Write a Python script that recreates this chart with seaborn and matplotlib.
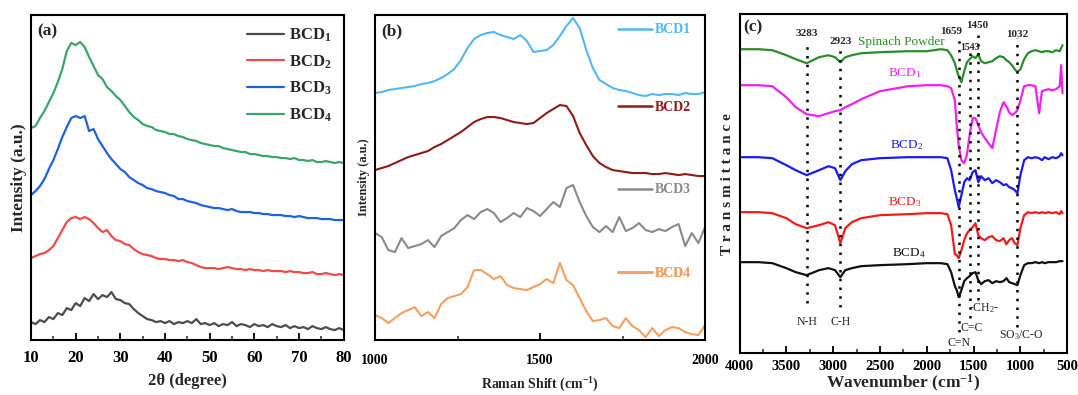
import numpy as np
import pandas as pd
import matplotlib
matplotlib.use("Agg")
import matplotlib.pyplot as plt
import seaborn as sns
from matplotlib.ticker import MultipleLocator
from matplotlib.lines import Line2D

# ---------------- data ----------------
# (a) XRD
two_theta = list(range(10, 81))
xrd_bcd1 = [18, 16, 20, 18, 23, 21, 27, 25, 32, 30, 37, 34, 42, 39, 46, 41, 45, 43, 48, 41,
            40, 37, 36, 31, 27, 24, 21, 20, 18, 19, 17, 19, 16, 18, 17, 19, 17, 21, 16, 17,
            15, 17, 14, 16, 15, 18, 14, 16, 15, 13, 16, 14, 15, 13, 16, 14, 13, 15, 12, 14,
            12, 13, 11, 14, 12, 11, 13, 11, 10, 12, 10]
xrd_bcd2 = [82, 84, 86, 87, 90, 94, 102, 110, 118, 122, 123, 121, 123, 121, 117, 112, 108, 110, 104, 100,
            99, 96, 95, 91, 88, 86, 85, 84, 82, 81, 81, 80, 80, 79, 80, 78, 77, 75, 73, 72,
            72, 72, 71, 72, 73, 72, 71, 71, 70, 71, 70, 70, 69, 70, 69, 69, 69, 68, 69, 68,
            68, 67, 67, 68, 66, 66, 67, 66, 65, 66, 65]
xrd_bcd3 = [145, 149, 154, 161, 171, 180, 191, 203, 213, 222, 224, 222, 224, 209, 211, 201, 194, 187, 181, 176,
            171, 168, 163, 160, 157, 155, 152, 151, 149, 148, 147, 145, 144, 141, 141, 139, 138, 137, 135, 134,
            133, 132, 132, 131, 130, 131, 129, 128, 128, 128, 127, 127, 126, 126, 125, 125, 125, 124, 124, 123,
            124, 123, 122, 122, 122, 121, 121, 121, 120, 120, 120]
xrd_bcd4 = [212, 214, 222, 229, 238, 247, 258, 271, 289, 297, 295, 298, 293, 283, 274, 265, 261, 253, 249, 244,
            240, 234, 228, 223, 220, 216, 214, 213, 210, 209, 208, 206, 206, 204, 203, 201, 200, 199, 197, 196,
            195, 194, 194, 192, 191, 190, 189, 188, 188, 186, 186, 185, 184, 184, 183, 183, 182, 182, 181, 182,
            180, 180, 179, 180, 178, 178, 179, 178, 177, 178, 177]
xrd_labels = ["BCD$_1$", "BCD$_2$", "BCD$_3$", "BCD$_4$"]
xrd_colors = ["#4d4d4d", "#f04a4a", "#1f62dc", "#3aa56c"]

# (b) Raman
raman_shift = list(range(1000, 2001, 20))
raman_bcd1 = [247, 248, 250, 251, 252, 253, 254, 256, 257, 259, 262, 266, 271, 280, 292, 301, 305, 307, 308, 305,
              303, 301, 305, 299, 288, 289, 290, 295, 304, 314, 322, 312, 290, 272, 260, 256, 252, 250, 249, 247,
              245, 244, 246, 245, 246, 246, 245, 247, 246, 246, 248]
raman_bcd2 = [170, 172, 174, 177, 180, 183, 185, 187, 189, 193, 196, 200, 204, 208, 213, 218, 221, 223, 223, 222,
              220, 218, 217, 216, 217, 222, 227, 231, 235, 234, 224, 207, 195, 184, 177, 173, 170, 169, 168, 167,
              167, 167, 166, 166, 167, 166, 165, 166, 165, 164, 164]
raman_bcd3 = [107, 103, 90, 88, 102, 92, 94, 96, 100, 93, 104, 108, 112, 120, 125, 121, 128, 131, 127, 118,
              122, 127, 123, 132, 129, 124, 131, 138, 133, 152, 155, 138, 124, 113, 108, 114, 108, 123, 109, 112,
              117, 110, 108, 111, 109, 113, 116, 94, 107, 97, 113]
raman_bcd4 = [25, 22, 17, 22, 27, 30, 33, 24, 28, 22, 36, 42, 44, 46, 53, 70, 70, 66, 61, 64,
              55, 52, 51, 50, 53, 56, 61, 57, 77, 60, 55, 42, 29, 19, 20, 22, 14, 12, 22, 14,
              10, 3, 12, 4, 10, 13, 12, 8, 6, 5, 15]
raman_labels = ["BCD1", "BCD2", "BCD3", "BCD4"]
raman_colors = ["#52b8f5", "#8e1a1a", "#8a8a8a", "#f5a060"]

# (c) FTIR
wavenumber = [4000, 3800, 3650, 3500, 3400, 3283, 3150, 3050, 2980, 2923, 2870, 2800, 2700, 2500, 2200,
              2000, 1850, 1780, 1740, 1700, 1680, 1659, 1630, 1600, 1570, 1543, 1510, 1480, 1450, 1420,
              1380, 1340, 1300, 1260, 1220, 1180, 1150, 1120, 1090, 1060, 1032, 1000, 960, 920, 880,
              840, 800, 770, 740, 700, 660, 620, 580, 565, 550]
ftir_spinach = [304, 304, 303, 298, 294, 290, 296, 298, 296, 291, 296, 298, 300, 301, 302,
                302, 304, 303, 298, 290, 283, 277, 271, 282, 291, 294, 297, 295, 299, 292,
                290, 291, 292, 295, 297, 296, 293, 291, 288, 284, 281, 284, 294, 300, 302,
                303, 302, 301, 302, 302, 301, 303, 302, 305, 308]
ftir_bcd1 = [268, 268, 267, 256, 246, 239, 237, 240, 242, 243, 246, 249, 254, 262, 267,
             268, 268, 267, 265, 253, 228, 208, 193, 190, 199, 218, 235, 235, 228, 221,
             215, 210, 205, 223, 241, 251, 247, 241, 238, 240, 243, 253, 267, 268, 268,
             267, 240, 262, 263, 264, 263, 264, 267, 288, 260]
ftir_bcd2 = [196, 196, 195, 188, 183, 178, 183, 187, 185, 173, 182, 189, 193, 195, 196,
             196, 196, 195, 183, 163, 155, 146, 158, 171, 175, 173, 181, 183, 171, 177,
             173, 175, 170, 173, 171, 168, 169, 166, 165, 163, 160, 178, 193, 196, 195,
             196, 195, 193, 196, 194, 196, 195, 197, 200, 198]
ftir_bcd3 = [141, 141, 140, 135, 129, 125, 128, 131, 128, 110, 125, 131, 135, 138, 139,
             140, 140, 139, 128, 99, 98, 95, 103, 113, 120, 123, 126, 130, 118, 115,
             113, 116, 117, 113, 112, 115, 109, 113, 115, 110, 108, 125, 138, 141, 140,
             141, 140, 141, 140, 141, 140, 141, 139, 142, 140]
ftir_bcd4 = [91, 91, 90, 85, 81, 78, 83, 85, 83, 76, 83, 85, 87, 88, 89,
             90, 90, 89, 81, 67, 63, 56, 63, 72, 75, 77, 80, 81, 73, 69,
             72, 73, 70, 72, 71, 72, 75, 71, 70, 69, 68, 78, 88, 90, 90,
             91, 90, 91, 90, 91, 91, 91, 92, 92, 92]
ftir_labels = ["Spinach Powder", "BCD$_1$", "BCD$_2$", "BCD$_3$", "BCD$_4$"]
ftir_colors = ["#2a8c2a", "#f020f0", "#1a1af5", "#f51a1a", "#111111"]
ftir_peaks = [3283, 2923, 1659, 1543, 1450, 1032]
peak_line_top = [310, 303, 313, 301, 320, 315]
peak_line_bottom = [50, 46, 21, 35, 53, 26]
bond_labels = ["N-H", "C-H", "C=N", "C=C", "-CH$_2$-", "SO$_3$/C-O"]

# ---------------- style ----------------
sns.set_theme(style="ticks")
plt.rcParams["font.family"] = ["Liberation Serif", "DejaVu Serif"]
plt.rcParams["font.weight"] = "bold"
plt.rcParams["axes.labelweight"] = "bold"
plt.rcParams["mathtext.default"] = "regular"
plt.rcParams["xtick.direction"] = "in"
plt.rcParams["ytick.direction"] = "in"
plt.rcParams["axes.linewidth"] = 1.5
plt.rcParams["axes.edgecolor"] = "black"

fig = plt.figure(figsize=(10.78, 3.95), dpi=100)
ax_a = fig.add_axes([0.0288, 0.139, 0.290, 0.823])
ax_b = fig.add_axes([0.348, 0.139, 0.306, 0.823])
ax_c = fig.add_axes([0.686, 0.106, 0.304, 0.858])

def style_axis(ax, fs, pad):
    ax.set_yticks([])
    ax.tick_params(axis="x", which="major", length=5, width=1.3, labelsize=fs, colors="black", pad=pad)
    ax.tick_params(axis="x", which="minor", length=3, width=1.1)
    for s in ax.spines.values():
        s.set_linewidth(1.5)
        s.set_color("black")

# ---- (a) ----
xrd_series = [xrd_bcd1, xrd_bcd2, xrd_bcd3, xrd_bcd4]
for vals, lab, col in zip(xrd_series, xrd_labels, xrd_colors):
    sns.lineplot(x=two_theta, y=vals, ax=ax_a, color=col, lw=1.6, label=lab, estimator=None, sort=False)
ax_a.set_xlim(10, 80)
ax_a.set_ylim(0, 325)
ax_a.xaxis.set_major_locator(MultipleLocator(10))
ax_a.xaxis.set_minor_locator(MultipleLocator(5))
style_axis(ax_a, 12, 7)
ax_a.set_xlabel("2θ (degree)", fontsize=12, labelpad=5)
ax_a.set_ylabel("Intensity (a.u.)", fontsize=12.5, labelpad=3)
ax_a.legend(loc="upper right", bbox_to_anchor=(1.0, 1.0), frameon=False, fontsize=12,
            handlelength=2.2, handletextpad=0.3, labelspacing=0.55, borderaxespad=0.3)
ax_a.text(0.02, 0.975, "(a)", transform=ax_a.transAxes, fontsize=12.5, fontweight="bold", va="top", ha="left")

# ---- (b) ----
raman_series = [raman_bcd1, raman_bcd2, raman_bcd3, raman_bcd4]
for vals, col in zip(raman_series, raman_colors):
    sns.lineplot(x=raman_shift, y=vals, ax=ax_b, color=col, lw=1.5, estimator=None, sort=False)
ax_b.set_xlim(1000, 2000)
ax_b.set_ylim(0, 325)
ax_b.xaxis.set_major_locator(MultipleLocator(500))
ax_b.xaxis.set_minor_locator(MultipleLocator(250))
style_axis(ax_b, 10, 10)
ax_b.set_xlabel("Raman Shift (cm$^{-1}$)", fontsize=10, labelpad=6)
ax_b.set_ylabel("Intensity (a.u.)", fontsize=9, labelpad=4)
label_y = [0.954, 0.717, 0.462, 0.206]
for lab, col, yy in zip(raman_labels, raman_colors, label_y):
    h = Line2D([], [], color=col, lw=1.8)
    leg = ax_b.legend([h], [lab], loc="center left", bbox_to_anchor=(0.72, yy), frameon=False,
                      fontsize=10, handlelength=2.4, handletextpad=0.2, borderaxespad=0)
    for t in leg.get_texts():
        t.set_color(col)
    ax_b.add_artist(leg)
ax_b.text(0.02, 0.975, "(b)", transform=ax_b.transAxes, fontsize=12.5, fontweight="bold", va="top", ha="left")

# ---- (c) ----
ftir_series = [ftir_spinach, ftir_bcd1, ftir_bcd2, ftir_bcd3, ftir_bcd4]
for vals, col in zip(ftir_series, ftir_colors):
    sns.lineplot(x=wavenumber, y=vals, ax=ax_c, color=col, lw=1.6, estimator=None, sort=False)
ax_c.set_xlim(4000, 500)
ax_c.set_ylim(0, 339)
ax_c.xaxis.set_major_locator(MultipleLocator(500))
ax_c.xaxis.set_minor_locator(MultipleLocator(250))
style_axis(ax_c, 10.5, 5)
ax_c.set_xlabel("Wavenumber (cm$^{-1}$)", fontsize=12.5, labelpad=0)
ax_c.set_ylabel("T r a n s m i t t a n c e", fontsize=11, labelpad=4)
ax_c.vlines(ftir_peaks, peak_line_bottom, peak_line_top, colors="black", linestyles=(0, (1, 2.5)), lw=1.8)

peak_text_pos = [(3283, 320, 8), (2923, 312, 8), (1740, 322, 8), (1543, 306, 7), (1460, 328, 8), (1032, 319, 8)]
for p, (xx, yy, fs) in zip(ftir_peaks, peak_text_pos):
    ax_c.text(xx, yy, str(p), fontsize=fs, fontweight="bold", ha="center", va="center")
bond_pos = [(3283, 31), (2923, 31), (1659, 10), (1525, 25), (1390, 45), (990, 18)]
for lab, (xx, yy) in zip(bond_labels, bond_pos):
    ax_c.text(xx, yy, lab, fontsize=8.5, fontweight="normal", ha="center", va="center")
ftir_label_pos = [(2270, 311), (2240, 280), (2218, 208), (2240, 151), (2186, 100)]
for lab, col, (xx, yy) in zip(ftir_labels, ftir_colors, ftir_label_pos):
    ax_c.text(xx, yy, lab, fontsize=9.5, fontweight="normal", color=col, ha="center", va="center")
ax_c.text(0.01, 0.985, "(c)", transform=ax_c.transAxes, fontsize=12.5, fontweight="bold", va="top", ha="left")

fig.savefig("out.png", dpi=100)
